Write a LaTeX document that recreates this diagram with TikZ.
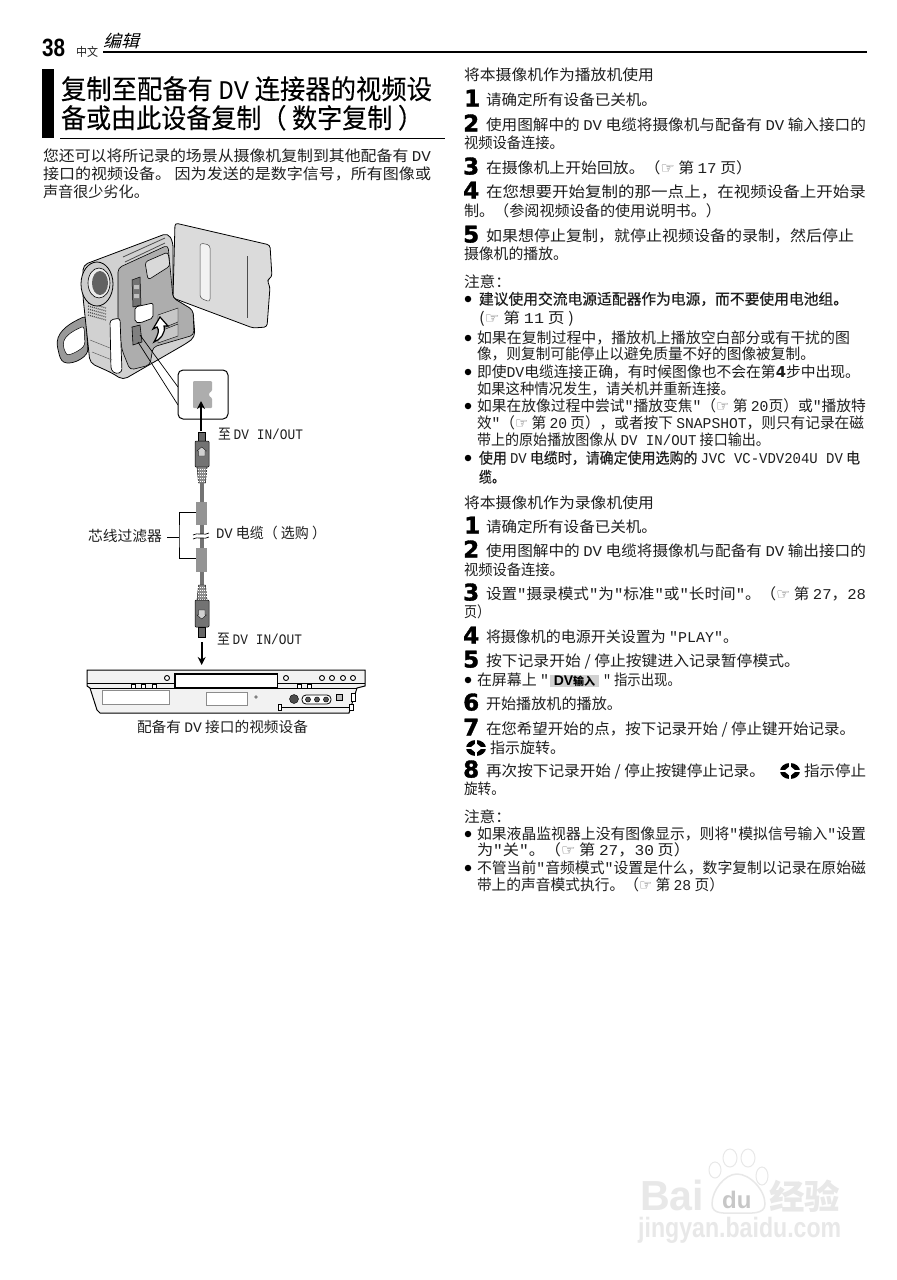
\documentclass[tikz,border=0pt]{standalone}
\usepackage{fontspec}
\usepackage{graphicx}
\setmainfont{Noto Sans CJK SC}
\newfontfamily\cjkb[FakeBold=0.6]{Noto Sans CJK SC}
\newfontfamily\cjkt[FakeBold=0.25]{Noto Sans CJK SC}
\newfontfamily\cjkit[FakeSlant=0.25]{Noto Sans CJK SC}
\newfontfamily\mono{Liberation Mono}
\newfontfamily\arial{Liberation Sans}
\newfontfamily\djv{DejaVu Sans}
\newfontfamily\djn[BoldFeatures={FakeBold=1.5}]{DejaVu Sans}
\usetikzlibrary{arrows.meta,calc}
\newcommand\fit[2]{\resizebox{#1pt}{\height}{#2}}
\newcommand\m[1]{{\mono #1}}
\newcommand\qu{{\mono"}}
\newcommand\hd{{\djv\color{black!60}\char"261E}}
\definecolor{ink}{gray}{0.12}
\definecolor{wm}{gray}{0.91}
\tikzset{
 ln/.style={anchor=base west,inner sep=0pt,outer sep=0pt,text=ink,font=\fontsize{15}{15}\selectfont},
 lb/.style={ln,font=\cjkb\fontsize{15}{15}\selectfont},
 ttl/.style={ln,text=black,font=\cjkt\fontsize{27}{27}\selectfont},
 num/.style={anchor=base west,inner sep=0pt,text=black,font=\djn\bfseries\fontsize{23}{23}\selectfont},
 bdot/.style={circle,fill=black,inner sep=0pt,minimum size=6.5pt},
 capt/.style={ln,font=\fontsize{14.5}{15}\selectfont},
 edg/.style={draw=black,line width=0.7pt},
 knob/.style={draw=black,line width=0.9pt,fill=white},
 arr/.style={line width=2pt,-{Stealth[length=8pt,width=8pt]}},
 wmark/.style={anchor=base west,inner sep=0pt,text=wm},
}
\newcommand\indic[2]{%
 \fill[black] (#1,#2) ellipse (10pt and 8pt);
 \draw[white,line width=1.4pt] (#1-11,#2) -- (#1+11,#2) (#1,#2-9) -- (#1,#2+9);
 \fill[white] (#1-6,#2) -- (#1,#2-5) -- (#1+6,#2) -- (#1,#2+5) -- cycle;
}
\begin{document}
\begin{tikzpicture}[x=1pt,y=-1pt]
\useasboundingbox (0,0) rectangle (897,1280);
\fill[white] (0,0) rectangle (897,1280);
% ---------- header
\node[anchor=base west,inner sep=0pt] (pg) at (42,56) {\arial\bfseries\fontsize{25}{25}\selectfont\fit{23}{38}};
\node[ln,font=\fontsize{12}{12}\selectfont] (zw) at (76,56) {\fit{22}{中文}};
\node[ln,text=black,font=\cjkit\fontsize{17}{17}\selectfont] (bj) at (103,47) {\fit{36}{编辑}};
\fill[black] (103,50.5) rectangle (867,52.5);
% ---------- title
\fill[black] (42,69) rectangle (54,138);
\node[ttl] (t1) at (61,99) {\fit{371}{复制至配备有 \m{DV} 连接器的视频设}};
\node[ttl] (t2) at (61,128) {\fit{362}{备或由此设备复制（ 数字复制 ）}};
\draw[black,line width=0.7pt] (60,138.5) -- (445,138.5);
\node[ln] (i1) at (43,161) {\fit{388}{您还可以将所记录的场景从摄像机复制到其他配备有 \m{DV}}};
\node[ln] (i2) at (43,179) {\fit{388}{接口的视频设备。 因为发送的是数字信号，所有图像或}};
\node[ln] (i3) at (43,197) {\fit{106}{声音很少劣化。}};
% ---------- camera
\fill[black!40,rounded corners=3pt,draw=black,line width=0.7pt] (57,345) .. controls (58,330) and (72,322) .. (86,316) -- (88,352) .. controls (80,362) and (66,366) .. (60,358) -- cycle;
\fill[white,draw=black,line width=0.5pt,rounded corners=3pt] (63,345) .. controls (65,335) and (75,330) .. (84,326) -- (85,345) .. controls (78,352) and (68,356) .. (65,352) -- cycle;
\fill[black!18,draw=black,line width=0.8pt,rounded corners=5pt] (83,265) -- (168,233) -- (173,242) -- (173,298) -- (193,310) -- (195,337) -- (187,343) -- (123,380) -- (112,373) -- (90,363) -- (83,297) -- cycle;
\fill[black!32,draw=black,line width=0.6pt,rounded corners=4pt] (118,268) -- (168,245) -- (173,298) -- (193,310) -- (194,335) -- (153,347) -- (150,365) -- (130,370) -- (122,350) -- (118,320) -- cycle;
\fill[black!15,draw=black,line width=0.6pt,rounded corners=3pt] (145,262) -- (168,252) -- (170,266) -- (148,280) -- cycle;
\draw[black!70,line width=0.8pt] (123,257) -- (165,238) (125,262) -- (165,243);
\fill[white,draw=black,line width=0.7pt,rounded corners=3pt] (110,320) -- (120,318) -- (122,372) -- (116,374) -- (111,370) -- cycle;
\foreach \i in {0,...,4}{\draw[black!70,line width=1.2pt,dash pattern=on 1pt off 1pt] (88,{303+\i*3}) -- (106,{308+\i*3});}
\draw[black!60,line width=0.5pt] (90,340) -- (110,348) (92,352) -- (112,360);
\fill[black!20,draw=black,line width=0.8pt] (97,284) ellipse (16pt and 22pt);
\fill[black!8,draw=black,line width=0.6pt] (99,283) ellipse (11pt and 15pt);
\fill[black!62] (100,283) ellipse (8pt and 12pt);
\fill[black!55,draw=black,line width=0.5pt] (132,280) -- (140,277) -- (141,305) -- (133,307) -- cycle;
\fill[black!25] (134,285) rectangle (139,289) (134,294) rectangle (139,298);
\fill[white,draw=black,line width=0.7pt,rounded corners=2pt] (135,307) -- (153,303) -- (153,318) -- (140,323) -- (135,322) -- cycle;
\fill[black!50,draw=black,line width=0.6pt] (132,327) -- (140,325) -- (142,342) -- (133,345) -- cycle;
\fill[black!22,draw=black,line width=0.4pt] (158,315) -- (178,308) -- (178,322) -- (158,330) -- cycle (158,332) -- (178,324) -- (178,336) -- (158,343) -- cycle;
\fill[white,draw=black,line width=1.2pt] (154,342) .. controls (158,335) and (160,330) .. (157,327) -- (153,329) -- (160,317) -- (168,326) -- (164,326) .. controls (166,333) and (160,340) .. (154,342) -- cycle;
\fill[black!14,draw=black,line width=0.8pt,rounded corners=3pt] (175,223) -- (270,245) -- (272,277) -- (267,280) -- (270,287) -- (267,327) -- (253,328) -- (173,298) -- cycle;
\fill[black!5,draw=black!70,line width=0.5pt,rounded corners=3pt] (200,243) -- (210,245) -- (210,302) -- (200,298) -- cycle;
\draw[black!70,line width=0.5pt] (247,256) -- (247,318);
% inset
\coordinate (pa1) at (140,335); \coordinate (pa2) at (178,387);
\coordinate (pb1) at (138,342); \coordinate (pb2) at (178,405);
\draw[edg] (pa1) -- (pa2) (pb1) -- (pb2);
\node[draw=black,line width=1pt,fill=white,rounded corners=5pt,minimum width=50pt,minimum height=49pt,inner sep=0pt] (inset) at (203,394.5) {};
\fill[black!32,rounded corners=1pt] (193,381) -- (212,381) -- (212,391) -- (209,393) -- (209,396) -- (212,398) -- (212,408) -- (193,408) -- cycle;
\coordinate (up1) at (201,431); \coordinate (up2) at (201,401);
\draw[arr] (up1) -- (up2);
% ---------- cable
\tikzset{dk/.style={fill=black!55,draw=black,line width=0.5pt}}
\fill[black!60,draw=black,line width=0.4pt] (198,432) rectangle (205,441);
\fill[dk,rounded corners=1pt] (195,441) rectangle (209,467);
\fill[black!18,draw=black,line width=0.3pt] (198.5,456) -- (198.5,451) -- (197,451) -- (201.7,447) -- (206.4,451) -- (205,451) -- (205,456) -- cycle;
\fill[black!45,draw=black,line width=0.4pt] (197,467) -- (207,467) -- (205.5,483) -- (198.5,483) -- cycle;
\foreach \yy in {469,472,475,478,481}{\draw[white,line width=0.5pt,dash pattern=on 1pt off 1pt] (197.5,\yy) -- (206.5,\yy);}
\fill[black!55] (200,483) rectangle (204,502);
\fill[black!42] (196,502) rectangle (207,525);
\fill[black!55] (200,525) rectangle (204,534);
\fill[black!55] (200,538) rectangle (204,548);
\fill[black!42] (196,548) rectangle (207,572);
\fill[black!55] (200,572) rectangle (204,585);
\draw[edg] (193,535) .. controls (197,532) and (205,536) .. (209,533);
\draw[edg] (193,539) .. controls (197,536) and (205,540) .. (209,537);
\fill[black!45,draw=black,line width=0.4pt] (198.5,585) -- (205.5,585) -- (207,600) -- (197,600) -- cycle;
\foreach \yy in {587,590,593,596,599}{\draw[white,line width=0.5pt,dash pattern=on 1pt off 1pt] (197.5,\yy) -- (206.5,\yy);}
\fill[dk,rounded corners=1pt] (195,600) rectangle (209,627);
\fill[black!18,draw=black,line width=0.3pt] (198.5,610) -- (198.5,615) -- (197,615) -- (201.7,619) -- (206.4,615) -- (205,615) -- (205,610) -- cycle;
\fill[black!60,draw=black,line width=0.4pt] (198,627) rectangle (205,637);
\coordinate (dn1) at (201.7,642); \coordinate (dn2) at (201.7,665);
\draw[arr] (dn1) -- (dn2);
% bracket
\node[capt] (lcore) at (88,541) {\fit{74}{芯线过滤器}};
\coordinate (br0) at (179,537); \coordinate (br1) at (196,512); \coordinate (br2) at (196,558);
\draw[black,line width=1pt] (br1) -| (br0) |- (br2);
\draw[black,line width=1pt] (lcore.east |- br0) ++(5,0) -- (br0);
\node[capt] (lto1) at (218,439) {\fit{85}{至 \m{DV IN/OUT}}};
\node[capt] (lcab) at (216,538) {\fit{110}{\m{DV} 电缆（ 选购 ）}};
\node[capt] (lto2) at (217,644) {\fit{85}{至 \m{DV IN/OUT}}};
\node[capt] (ldev) at (137,732) {\fit{171}{配备有 \m{DV} 接口的视频设备}};
% ---------- recorder
\fill[black!5,draw=black,line width=1pt] (87,670) -- (365,670) -- (365,686) -- (357,688) -- (349,713) -- (100,713) -- (97,710) -- (90,688) -- (87,686) -- cycle;
\draw[black,line width=1pt] (87,683.5) -- (174,683.5) (278,683.5) -- (365,683.5) (90,688) -- (357,688);
\fill[black] (174,673) rectangle (278,688);
\fill[white] (175.5,674.5) rectangle (276.5,686.5);
\foreach \kx in {167,286,322,332,343,353}{\draw[knob] (\kx,678) circle (2.5pt);}
\draw[black!45,line width=0.8pt,fill=white] (102,690) rectangle (169,704);
\draw[black!45,line width=0.8pt,fill=white] (206,692) rectangle (247,705);
\fill[black!50] (256,697) circle (1.8pt);
\foreach \kx in {133,143,154,299,309}{\draw[black,line width=0.7pt,fill=white] (\kx-2,684.5) rectangle (\kx+2,688);}
\fill[black!70,draw=black] (294,699) circle (4.5pt);
\draw[black,line width=0.8pt,fill=white,rounded corners=4pt] (302,695) rectangle (331,704);
\foreach \kx in {308,317,326}{\fill[black!65,draw=black,line width=0.5pt] (\kx,699.5) circle (2.5pt);}
\draw[black,line width=0.8pt,fill=black!25] (336,694) rectangle (342,700);
\draw[black,line width=0.8pt,fill=white] (351,693) rectangle (355,701);
\draw[black,line width=0.7pt,fill=white] (278,704) rectangle (281,710) (349,704) rectangle (353,710);
\draw[black,line width=1pt] (281,707) -- (349,707);
% ---------- right column, part 1
\node[ln] (r0) at (464,80) {\fit{190}{将本摄像机作为播放机使用}};
\node[num] (n1) at (464,106.5) {1};
\node[ln] (r1) at (486,105.5) {\fit{171}{请确定所有设备已关机。}};
\node[num] (n2) at (463,131.5) {2};
\node[ln] (r2) at (486,130.5) {\fit{380}{使用图解中的 \m{DV} 电缆将摄像机与配备有 \m{DV} 输入接口的}};
\node[ln] (r3) at (464,148.5) {\fit{100}{视频设备连接。}};
\node[num] (n3) at (463,174.5) {3};
\node[ln] (r4) at (486,173.5) {\fit{266}{在摄像机上开始回放。（\hd{} 第 \m{17} 页）}};
\node[num] (n4) at (463,198.5) {4};
\node[ln] (r5) at (486,197.5) {\fit{380}{在您想要开始复制的那一点上，在视频设备上开始录}};
\node[ln] (r6) at (464,216.5) {\fit{257}{制。（参阅视频设备的使用说明书。）}};
\node[num] (n5) at (463,242.5) {5};
\node[ln] (r7) at (486,241.5) {\fit{368}{如果想停止复制，就停止视频设备的录制，然后停止}};
\node[ln] (r8) at (464,259.5) {\fit{104}{摄像机的播放。}};
\node[ln] (nt1) at (464,287.5) {\fit{47}{注意：}};
\node[bdot] (b1) at (468,299) {};
\node[lb] (r9) at (479,304.5) {\fit{369}{建议使用交流电源适配器作为电源，而不要使用电池组。}};
\node[ln] (r10) at (479,323.5) {\fit{95}{(\hd{} 第 \m{11} 页 )}};
\node[bdot] (b2) at (468,338) {};
\node[ln] (r11) at (477,343.5) {\fit{373}{如果在复制过程中，播放机上播放空白部分或有干扰的图}};
\node[ln] (r12) at (477,359.5) {\fit{338}{像，则复制可能停止以避免质量不好的图像被复制。}};
\node[bdot] (b3) at (468,372) {};
\node[ln] (r13) at (477,377.5) {\fit{383}{即使\m{DV}电缆连接正确，有时候图像也不会在第{\djv\bfseries 4}步中出现。}};
\node[ln] (r14) at (477,394.5) {\fit{258}{如果这种情况发生，请关机并重新连接。}};
\node[bdot] (b4) at (468,406) {};
\node[ln] (r15) at (477,411.5) {\fit{389}{如果在放像过程中尝试\qu{}播放变焦\qu{}（\hd{} 第 \m{20}页）或\qu{}播放特}};
\node[ln] (r16) at (477,428.5) {\fit{387}{效\qu{}（\hd{} 第 \m{20} 页），或者按下 \m{SNAPSHOT}，则只有记录在磁}};
\node[ln] (r17) at (477,445.5) {\fit{293}{带上的原始播放图像从 \m{DV IN/OUT} 接口输出。}};
\node[bdot] (b5) at (468,458) {};
\node[lb] (r18) at (479,463.5) {\fit{381}{使用 \m{DV} 电缆时，请确定使用选购的 \m{JVC VC-VDV204U DV} 电}};
\node[lb] (r19) at (479,482.5) {\fit{26}{缆。}};
% ---------- right column, part 2
\node[ln] (s0) at (464,508) {\fit{190}{将本摄像机作为录像机使用}};
\node[num] (m1) at (464,533.5) {1};
\node[ln] (s1) at (486,532.5) {\fit{171}{请确定所有设备已关机。}};
\node[num] (m2) at (463,557.5) {2};
\node[ln] (s2) at (486,556.5) {\fit{380}{使用图解中的 \m{DV} 电缆将摄像机与配备有 \m{DV} 输出接口的}};
\node[ln] (s3) at (464,575.5) {\fit{100}{视频设备连接。}};
\node[num] (m3) at (463,600.5) {3};
\node[ln] (s4) at (486,599.5) {\fit{380}{设置\qu{}摄录模式\qu{}为\qu{}标准\qu{}或\qu{}长时间\qu{}。（\hd{} 第 \m{27}，\m{28}}};
\node[ln] (s5) at (464,617.5) {\fit{26}{页）}};
\node[num] (m4) at (463,643.5) {4};
\node[ln] (s6) at (486,642.5) {\fit{252}{将摄像机的电源开关设置为 \m{"PLAY"}。}};
\node[num] (m5) at (463,667.5) {5};
\node[ln] (s7) at (486,666.5) {\fit{314}{按下记录开始 / 停止按键进入记录暂停模式。}};
\node[bdot] (c1) at (468,680) {};
\node[ln] (s8) at (477,685.5) {\fit{72}{在屏幕上 \qu}};
\node[rectangle,fill=black!18,minimum width=49pt,minimum height=12pt,inner sep=0pt,text=black] (dvbox) at (574.5,681) {\arial\bfseries\fontsize{14}{14}\selectfont DV{\rmfamily\fontsize{11}{11}\selectfont\bfseries 输入}};
\node[ln] (s9) at (603,685.5) {\fit{78}{\qu{} 指示出现。}};
\node[num] (m6) at (463,710.5) {6};
\node[ln] (s10) at (486,709.5) {\fit{136}{开始播放机的播放。}};
\node[num] (m7) at (463,735.5) {7};
\node[ln] (s11) at (486,734.5) {\fit{369}{在您希望开始的点，按下记录开始 / 停止键开始记录。}};
\indic{476}{748}
\node[ln] (s12) at (490,753.5) {\fit{75}{指示旋转。}};
\node[num] (m8) at (463,777.5) {8};
\node[ln] (s13) at (486,776.5) {\fit{279}{再次按下记录开始 / 停止按键停止记录。}};
\indic{790}{771}
\node[ln] (s14) at (804,776.5) {\fit{62}{指示停止}};
\node[ln] (s15) at (464,794.5) {\fit{41}{旋转。}};
\node[ln] (nt2) at (464,822.5) {\fit{47}{注意：}};
\node[bdot] (c2) at (468,834) {};
\node[ln] (s16) at (477,839.5) {\fit{389}{如果液晶监视器上没有图像显示，则将\qu{}模拟信号输入\qu{}设置}};
\node[ln] (s17) at (477,855.5) {\fit{213}{为\qu{}关\qu{}。（\hd{} 第 \m{27}，\m{30} 页）}};
\node[bdot] (c3) at (468,868) {};
\node[ln] (s18) at (477,873.5) {\fit{389}{不管当前\qu{}音频模式\qu{}设置是什么，数字复制以记录在原始磁}};
\node[ln] (s19) at (477,890.5) {\fit{247}{带上的声音模式执行。（\hd{} 第 \m{28} 页）}};
% ---------- watermark
\node[wmark,font=\arial\bfseries\fontsize{42}{42}\selectfont] (wb) at (640,1210) {\fit{64}{Bai}};
\foreach \px/\py/\rx/\ry in {715/1170/6/8,730/1158/7/9,748/1158/7/9,762/1176/6/9}{\draw[wm,line width=1pt,fill=white] (\px,\py) ellipse (\rx pt and \ry pt);}
\draw[wm,line width=1.5pt,fill=white] (712,1204) .. controls (712,1190) and (725,1174) .. (737,1174) .. controls (750,1174) and (765,1190) .. (765,1204) .. controls (765,1215) and (750,1213) .. (737,1213) .. controls (725,1213) and (712,1215) .. (712,1204) -- cycle;
\node[wmark,text=black!22,font=\arial\bfseries\fontsize{24}{24}\selectfont] (wd) at (722,1208) {du};
\node[wmark,font=\bfseries\fontsize{34}{34}\selectfont] (wj) at (769,1209) {\fit{71}{经验}};
\node[wmark,font=\arial\bfseries\fontsize{28}{28}\selectfont] (wu) at (638,1237) {\fit{203}{jingyan.baidu.com}};
\end{tikzpicture}
\end{document}
